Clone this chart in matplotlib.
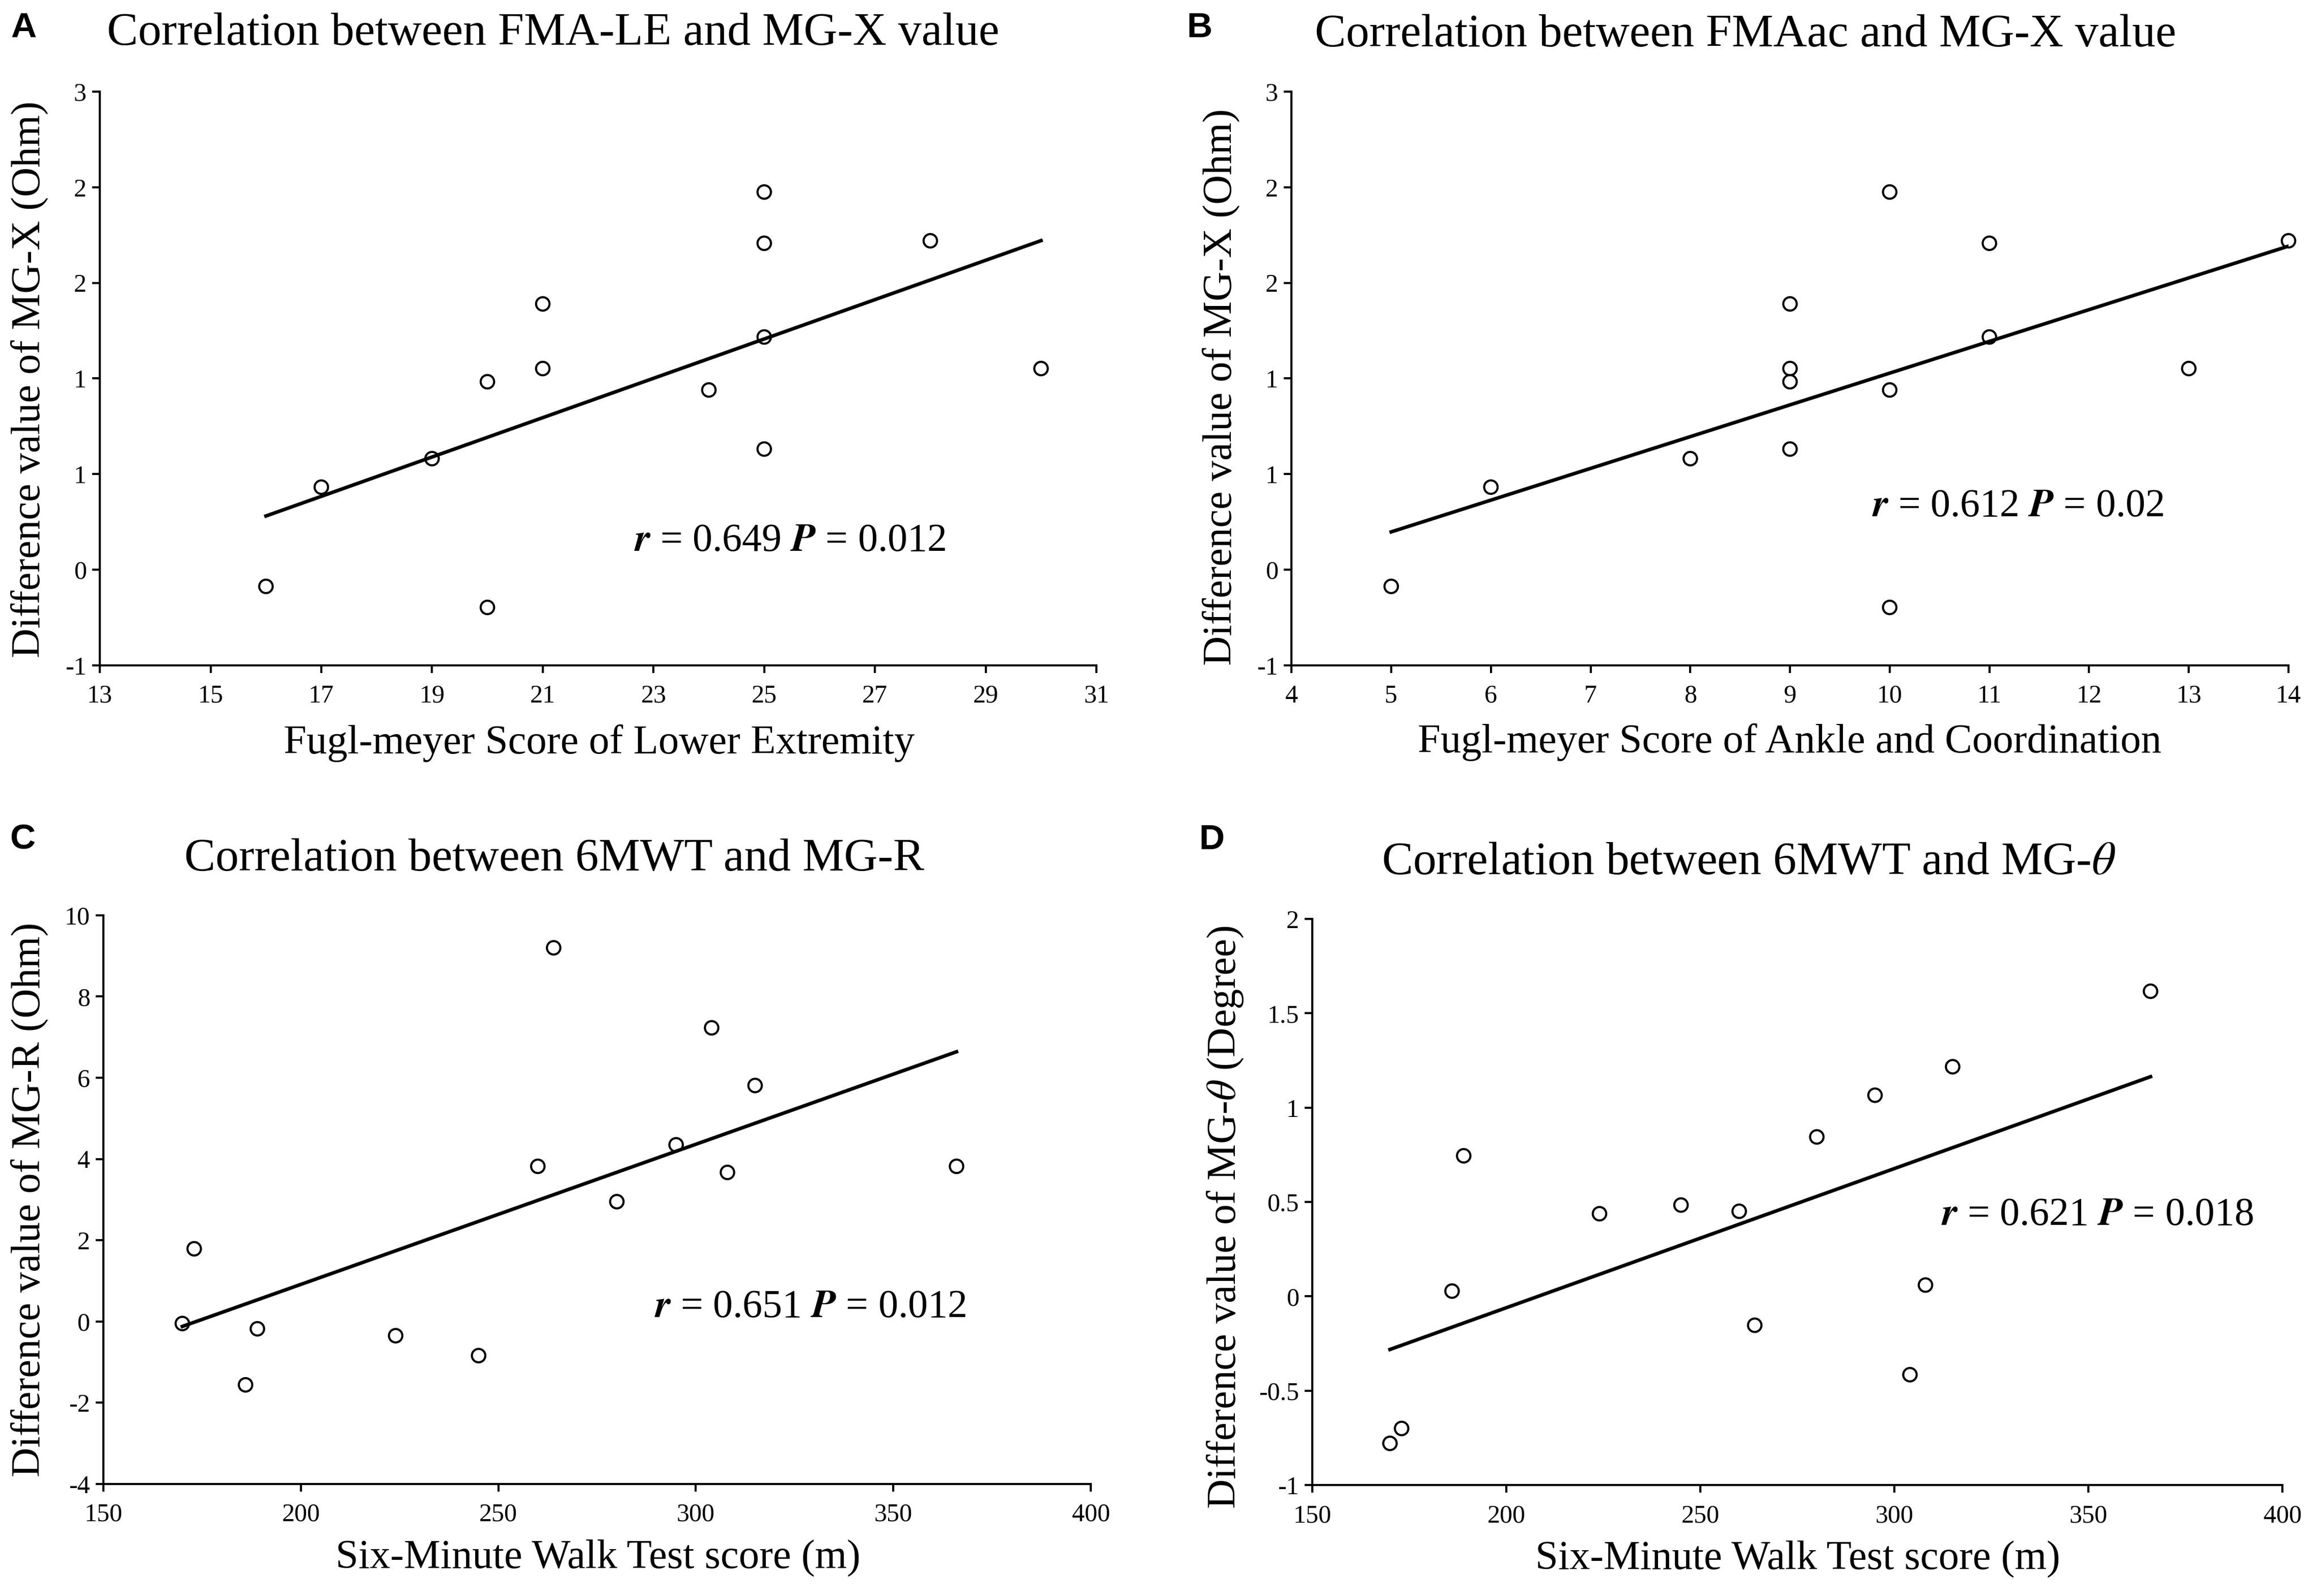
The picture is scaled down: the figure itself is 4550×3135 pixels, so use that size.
import numpy as np
import matplotlib
matplotlib.use('Agg')
import matplotlib.pyplot as plt

plt.rcParams['font.family'] = ['Liberation Serif', 'DejaVu Serif']
plt.rcParams['mathtext.fontset'] = 'stix'

# ---- data ----
fma_le = [16, 17, 19, 20, 20, 21, 21, 24, 25, 25, 25, 25, 28, 30]
mgx_a = [-0.087, 0.432, 0.581, 0.983, -0.197, 1.052, 1.39, 0.94, 1.975, 1.707, 1.217, 0.631, 1.72, 1.052]

fma_ac = [5, 6, 8, 9, 9, 9, 9, 10, 10, 10, 11, 11, 13, 14]
mgx_b = [-0.087, 0.432, 0.581, 1.39, 1.052, 0.983, 0.631, 1.975, 0.94, -0.197, 1.707, 1.217, 1.052, 1.72]

walk = [170, 173, 186, 189, 224, 245, 260, 264, 280, 295, 304, 308, 315, 366]
mgr = [-0.05, 1.79, -1.56, -0.18, -0.35, -0.84, 3.82, 9.2, 2.95, 4.35, 7.23, 3.67, 5.81, 3.82]
mgtheta = [-0.779, -0.70, 0.028, 0.745, 0.438, 0.484, 0.451, -0.153, 0.845, 1.066, -0.415, 0.060, 1.217, 1.617]

# Excel-style rounded labels on the MG-X axis (ticks every 0.5)
mgx_ticks = [-0.5, 0, 0.5, 1, 1.5, 2, 2.5]
mgx_labels = ['-1', '0', '1', '1', '2', '2', '3']

fig = plt.figure(figsize=(45.5, 31.35), dpi=100)


def draw_panel(rect, x, y, xticks, yticks, ylabels, title, xlabel, ylabel,
               stat, stat_xy, letter, letter_xy, title_xy, xlab_xy, ylab_xy):
    ax = fig.add_axes(rect)
    ax.scatter(x, y, s=19 ** 2, facecolors='none', edgecolors='black',
               linewidths=3, zorder=3, clip_on=False)
    # linear trend line
    k, b = np.polyfit(x, y, 1)
    xs = np.array([min(x), max(x)])
    ax.plot(xs, k * xs + b, color='black', lw=5, zorder=2)

    ax.set_xlim(xticks[0], xticks[-1])
    ax.set_ylim(yticks[0], yticks[-1])
    ax.set_xticks(xticks)
    ax.set_yticks(yticks)
    ax.set_yticklabels(ylabels)
    for s in ['top', 'right']:
        ax.spines[s].set_visible(False)
    for s in ['left', 'bottom']:
        ax.spines[s].set_linewidth(3)
    ax.tick_params(axis='both', direction='out', length=11, width=3,
                   labelsize=36)
    ax.tick_params(axis='x', pad=16)
    ax.tick_params(axis='y', pad=8)
    for lab in ax.get_xticklabels() + ax.get_yticklabels():
        lab.set_fontfamily('Liberation Serif')

    ax.text(stat_xy[0], stat_xy[1], stat, fontsize=56, ha='left', va='center')

    fig.text(title_xy[0], title_xy[1], title, fontsize=66, ha='center', va='center')
    fig.text(xlab_xy[0], xlab_xy[1], xlabel, fontsize=58, ha='center', va='center')
    fig.text(ylab_xy[0], ylab_xy[1], ylabel, fontsize=58, ha='center', va='center',
             rotation=90)
    fig.text(letter_xy[0], letter_xy[1], letter, fontsize=50, fontweight='bold',
             family='Liberation Sans', ha='center', va='center')
    return ax


draw_panel([0.0431, 0.5831, 0.4301, 0.3595], fma_le, mgx_a,
           list(range(13, 32, 2)), mgx_ticks, mgx_labels,
           'Correlation between FMA-LE and MG-X value',
           'Fugl-meyer Score of Lower Extremity',
           'Difference value of MG-X (Ohm)',
           r'$\mathbfit{r}$ = 0.649 $\mathbfit{P}$ = 0.012', (22.65, 0.15),
           'A', (0.0101, 0.9825), (0.2387, 0.979), (0.2585, 0.5343), (0.0127, 0.7624))

draw_panel([0.5574, 0.5831, 0.4303, 0.3595], fma_ac, mgx_b,
           list(range(4, 15)), mgx_ticks, mgx_labels,
           'Correlation between FMAac and MG-X value',
           'Fugl-meyer Score of Ankle and Coordination',
           'Difference value of MG-X (Ohm)',
           r'$\mathbfit{r}$ = 0.612 $\mathbfit{P}$ = 0.02', (9.82, 0.33),
           'B', (0.5176, 0.9825), (0.7534, 0.978), (0.7723, 0.535), (0.527, 0.7576))

draw_panel([0.0446, 0.0702, 0.4262, 0.3563], walk, mgr,
           list(range(150, 401, 50)), list(range(-4, 11, 2)),
           [str(v) for v in range(-4, 11, 2)],
           'Correlation between 6MWT and MG-R',
           'Six-Minute Walk Test score (m)',
           'Difference value of MG-R (Ohm)',
           r'$\mathbfit{r}$ = 0.651 $\mathbfit{P}$ = 0.012', (289.5, 0.35),
           'C', (0.0097, 0.4737), (0.2393, 0.4616), (0.2582, 0.0239), (0.0127, 0.2485))

theta_ticks = [-1, -0.5, 0, 0.5, 1, 1.5, 2]
draw_panel([0.5664, 0.0695, 0.4187, 0.3547], walk, mgtheta,
           list(range(150, 401, 50)), theta_ticks,
           ['-1', '-0.5', '0', '0.5', '1', '1.5', '2'],
           r'Correlation between 6MWT and MG-$\theta$',
           'Six-Minute Walk Test score (m)',
           r'Difference value of MG-$\theta$ (Degree)',
           r'$\mathbfit{r}$ = 0.621 $\mathbfit{P}$ = 0.018', (312, 0.43),
           'D', (0.523, 0.4737), (0.7547, 0.4593), (0.776, 0.0230), (0.5288, 0.2373))

fig.savefig('out.png', dpi=100, facecolor='white')
